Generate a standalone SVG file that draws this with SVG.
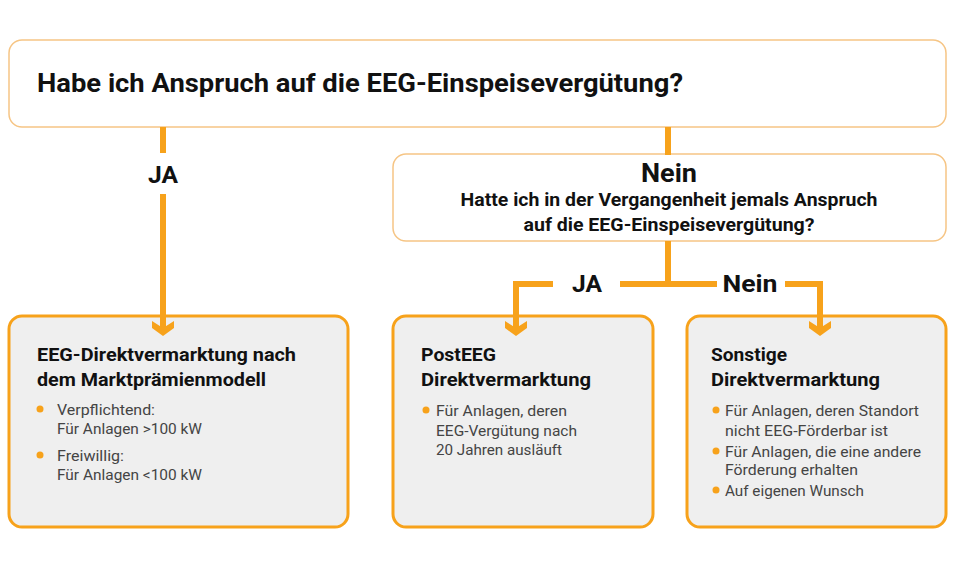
<svg xmlns="http://www.w3.org/2000/svg" width="960" height="576" viewBox="0 0 960 576">
<style>
.q{fill:#fff;stroke:#f6c585;stroke-width:1.5}
.b{fill:#efefef;stroke:#f7a21b;stroke-width:3}
.c{fill:none;stroke:#f7a21b;stroke-width:6;stroke-linejoin:miter}
.ah{fill:#f7a21b}
.t{font-family:Roboto,"Liberation Sans",Arial,sans-serif;fill:#111;font-weight:700}
.bt{font-size:18.5px}
.lbl{font-family:Roboto,"Liberation Sans",Arial,sans-serif;font-weight:700;fill:#111;font-size:24px;text-anchor:middle}
.s{font-family:Roboto,"Liberation Sans",Arial,sans-serif;fill:#444;font-size:15px}
.dot{fill:#f7a21b}
</style>
<rect width="960" height="576" fill="#fff"/>
<g id="q1">
<rect class="q" x="9" y="40" width="937" height="87" rx="13"/>
<text class="t" x="37" y="92" font-size="26" textLength="646" lengthAdjust="spacingAndGlyphs">Habe ich Anspruch auf die EEG-Einspeisevergütung?</text>
</g>
<g id="q2">
<rect class="q" x="393" y="154" width="553" height="87" rx="13"/>
<text class="t" x="669" y="182" font-size="25" text-anchor="middle" textLength="56" lengthAdjust="spacingAndGlyphs">Nein</text>
<text class="t" x="669" y="206" font-size="17.5" text-anchor="middle" textLength="417" lengthAdjust="spacingAndGlyphs">Hatte ich in der Vergangenheit jemals Anspruch</text>
<text class="t" x="669" y="231" font-size="17.5" text-anchor="middle" textLength="291" lengthAdjust="spacingAndGlyphs">auf die EEG-Einspeisevergütung?</text>
</g>
<g id="box1">
<rect class="b" x="9" y="316" width="339" height="211" rx="13"/>
<text class="t bt" x="37" y="361" textLength="259" lengthAdjust="spacingAndGlyphs">EEG-Direktvermarktung nach</text>
<text class="t bt" x="37" y="386" textLength="229" lengthAdjust="spacingAndGlyphs">dem Marktprämienmodell</text>
<circle class="dot" cx="40" cy="409" r="3.5"/>
<text class="s" x="57" y="415" textLength="98" lengthAdjust="spacingAndGlyphs">Verpflichtend:</text>
<text class="s" x="57" y="434" textLength="145" lengthAdjust="spacingAndGlyphs">Für Anlagen &gt;100 kW</text>
<circle class="dot" cx="40" cy="455" r="3.5"/>
<text class="s" x="57" y="461" textLength="67" lengthAdjust="spacingAndGlyphs">Freiwillig:</text>
<text class="s" x="57" y="480" textLength="145" lengthAdjust="spacingAndGlyphs">Für Anlagen &lt;100 kW</text>
</g>
<g id="box2">
<rect class="b" x="393" y="316" width="260" height="211" rx="13"/>
<text class="t bt" x="421" y="361" textLength="75" lengthAdjust="spacingAndGlyphs">PostEEG</text>
<text class="t bt" x="421" y="386" textLength="170" lengthAdjust="spacingAndGlyphs">Direktvermarktung</text>
<circle class="dot" cx="426" cy="410" r="3.5"/>
<text class="s" x="436" y="416" textLength="131" lengthAdjust="spacingAndGlyphs">Für Anlagen, deren</text>
<text class="s" x="436" y="436" textLength="141" lengthAdjust="spacingAndGlyphs">EEG-Vergütung nach</text>
<text class="s" x="436" y="455" textLength="126" lengthAdjust="spacingAndGlyphs">20 Jahren ausläuft</text>
</g>
<g id="box3">
<rect class="b" x="687" y="316" width="259" height="211" rx="13"/>
<text class="t bt" x="711" y="361" textLength="76" lengthAdjust="spacingAndGlyphs">Sonstige</text>
<text class="t bt" x="711" y="386" textLength="169" lengthAdjust="spacingAndGlyphs">Direktvermarktung</text>
<circle class="dot" cx="716" cy="410" r="3.5"/>
<text class="s" x="725" y="416" textLength="194" lengthAdjust="spacingAndGlyphs">Für Anlagen, deren Standort</text>
<text class="s" x="725" y="436" textLength="163" lengthAdjust="spacingAndGlyphs">nicht EEG-Förderbar ist</text>
<circle class="dot" cx="716" cy="451" r="3.5"/>
<text class="s" x="725" y="457" textLength="196" lengthAdjust="spacingAndGlyphs">Für Anlagen, die eine andere</text>
<text class="s" x="725" y="475" textLength="133" lengthAdjust="spacingAndGlyphs">Förderung erhalten</text>
<circle class="dot" cx="716" cy="490" r="3.5"/>
<text class="s" x="725" y="496" textLength="139" lengthAdjust="spacingAndGlyphs">Auf eigenen Wunsch</text>
</g>
<g id="connectors">
<line class="c" x1="163" y1="127" x2="163" y2="153"/>
<path class="c" d="M163,194 V328"/>
<path class="ah" d="M152,321 L163,328 L174,321 L174,328 L163,336 L152,328 Z"/>
<line class="c" x1="668" y1="127" x2="668" y2="155"/>
<line class="c" x1="668" y1="241" x2="668" y2="284"/>
<path class="c" d="M553,284 H516 V328"/>
<path class="ah" d="M505,321 L516,328 L527,321 L527,328 L516,336 L505,328 Z"/>
<line class="c" x1="620" y1="284" x2="717" y2="284"/>
<path class="c" d="M785,284 H820 V328"/>
<path class="ah" d="M809,321 L820,328 L831,321 L831,328 L820,336 L809,328 Z"/>
<text class="lbl" x="163" y="183" textLength="30" lengthAdjust="spacingAndGlyphs">JA</text>
<text class="lbl" x="587" y="292" textLength="30" lengthAdjust="spacingAndGlyphs">JA</text>
<text class="lbl" x="750" y="292" textLength="55" lengthAdjust="spacingAndGlyphs">Nein</text>
</g>
</svg>
